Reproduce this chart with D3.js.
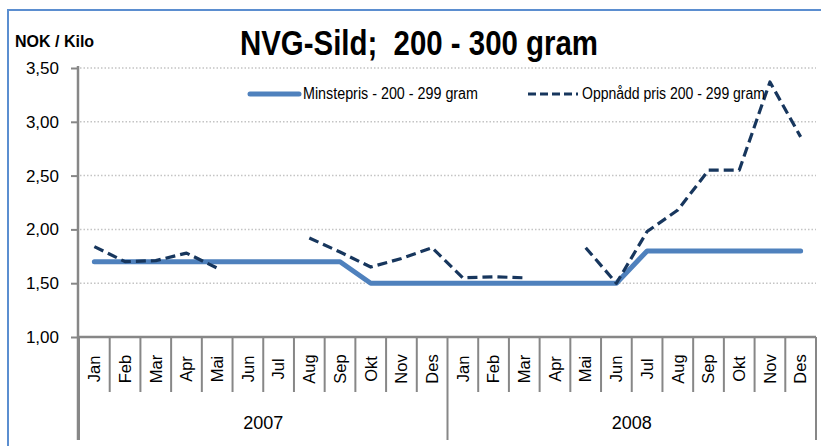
<!DOCTYPE html>
<html>
<head>
<meta charset="utf-8">
<script src="https://cdn.jsdelivr.net/npm/d3@7"></script>
<style>
  html, body { margin: 0; padding: 0; background: #fff; }
  svg { display: block; }
  .pre { white-space: pre; }
</style>
</head>
<body>
<svg id="chart" width="821" height="446"></svg>
<script>
// ---- data ----
const years = ["2007", "2008"];
const months = ["Jan", "Feb", "Mar", "Apr", "Mai", "Jun", "Jul", "Aug", "Sep", "Okt", "Nov", "Des"];
const minstepris = [1.70, 1.70, 1.70, 1.70, 1.70, 1.70, 1.70, 1.70, 1.70, 1.50, 1.50, 1.50,
                    1.50, 1.50, 1.50, 1.50, 1.50, 1.50, 1.80, 1.80, 1.80, 1.80, 1.80, 1.80];
const oppnadd = [1.84, 1.70, 1.71, 1.78, 1.64, null, null, 1.92, 1.79, 1.65, 1.73, 1.83,
                 1.55, 1.56, 1.55, null, 1.83, 1.50, 1.98, 2.18, 2.55, 2.55, 3.37, 2.86];
const yTicks = [1.00, 1.50, 2.00, 2.50, 3.00, 3.50];
const titleText = "NVG-Sild;  200 - 300 gram";
const yLabel = "NOK / Kilo";
const seriesNames = ["Minstepris - 200 - 299 gram", "Oppnådd pris 200 - 299 gram"];

// ---- build ----
const cats = [];
years.forEach(y => months.forEach(m => cats.push(y + "-" + m)));

const svg = d3.select("#chart");
const x = d3.scaleBand().domain(cats).range([79, 816]).padding(0);
const y = d3.scaleLinear().domain([1, 3.5]).range([337, 68]);
const axisColor = "#878787";
const font = "Liberation Sans, Arial, sans-serif";

// frame
svg.append("path").attr("d", "M8,446 L8,10 L821,10")
  .attr("fill", "none").attr("stroke", "#5B8ED0").attr("stroke-width", 2);

// gridlines
svg.append("g").selectAll("line").data(yTicks.filter(t => t > 1)).join("line")
  .attr("x1", 80).attr("x2", 816)
  .attr("y1", d => y(d)).attr("y2", d => y(d))
  .attr("stroke", "#C4C4C4").attr("stroke-width", 1.5).attr("stroke-dasharray", "1.5,2");

// y axis
const yAxis = svg.append("g").attr("transform", "translate(78,0)")
  .call(d3.axisLeft(y).tickValues(yTicks).tickSize(7).tickPadding(12)
    .tickFormat(d => d3.format(".2f")(d).replace(".", ",")));
yAxis.select(".domain").remove();
yAxis.selectAll(".tick line").attr("stroke", axisColor).attr("stroke-width", 2);
yAxis.selectAll(".tick text").attr("font-family", font)
  .attr("font-size", 17).attr("fill", "#000");
svg.append("line").attr("x1", 78).attr("x2", 78).attr("y1", 66).attr("y2", 440)
  .attr("stroke", axisColor).attr("stroke-width", 2.5);

// x axis (month labels)
const xAxis = svg.append("g").attr("transform", "translate(0,337)")
  .call(d3.axisBottom(x).tickSize(0).tickFormat(d => d.split("-")[1]));
xAxis.select(".domain").remove();
xAxis.selectAll(".tick text")
  .attr("transform", "translate(0,32) rotate(-90)")
  .attr("text-anchor", "middle").attr("dy", "0.35em").attr("y", 0)
  .attr("font-family", font)
  .attr("font-size", 16.5).attr("fill", "#000");
svg.append("line").attr("x1", 77).attr("x2", 816).attr("y1", 337).attr("y2", 337)
  .attr("stroke", axisColor).attr("stroke-width", 2.5);

// separators
const bounds = d3.range(cats.length + 1);
const bx = i => i < cats.length ? x(cats[i]) : x(cats[cats.length - 1]) + x.bandwidth();
svg.append("g").selectAll("line").data(bounds).join("line")
  .attr("x1", bx).attr("x2", bx)
  .attr("y1", 337)
  .attr("y2", i => (i % months.length === 0) ? 440 : 392)
  .attr("stroke", axisColor).attr("stroke-width", 2);

// year labels
svg.append("g").selectAll("text").data(years).join("text")
  .attr("x", d => (x(d + "-" + months[0]) + x(d + "-" + months[11]) + x.bandwidth()) / 2)
  .attr("y", 429)
  .attr("text-anchor", "middle")
  .attr("font-family", font)
  .attr("font-size", 18).attr("fill", "#000")
  .text(d => d);

// lines
const cx = i => x(cats[i]) + x.bandwidth() / 2;
const line = d3.line().defined(d => d != null).x((d, i) => cx(i)).y(d => y(d));
svg.append("path").datum(minstepris).attr("d", line)
  .attr("fill", "none").attr("stroke", "#4F81BD").attr("stroke-width", 5)
  .attr("stroke-linecap", "round").attr("stroke-linejoin", "round");
svg.append("path").datum(oppnadd).attr("d", line)
  .attr("fill", "none").attr("stroke", "#17365D").attr("stroke-width", 3.2)
  .attr("stroke-dasharray", "10,5").attr("stroke-linejoin", "round");

// legend
svg.append("line").attr("x1", 250).attr("x2", 299).attr("y1", 94).attr("y2", 94)
  .attr("stroke", "#4F81BD").attr("stroke-width", 5).attr("stroke-linecap", "round");
svg.append("text").attr("x", 303).attr("y", 98.5)
  .attr("font-family", font).attr("font-size", 16)
  .attr("textLength", 175).attr("lengthAdjust", "spacingAndGlyphs")
  .attr("fill", "#000").text(seriesNames[0]);
svg.append("line").attr("x1", 528).attr("x2", 578).attr("y1", 94).attr("y2", 94)
  .attr("stroke", "#17365D").attr("stroke-width", 3.2).attr("stroke-dasharray", "8,4");
svg.append("text").attr("x", 582).attr("y", 98.5)
  .attr("font-family", font).attr("font-size", 16)
  .attr("textLength", 183).attr("lengthAdjust", "spacingAndGlyphs")
  .attr("fill", "#000").text(seriesNames[1]);

// title
svg.append("text").attr("class", "pre").attr("x", 240).attr("y", 55)
  .attr("font-family", "Liberation Sans Narrow, Arial Narrow, Liberation Sans, Arial, sans-serif")
  .attr("font-weight", "bold").attr("font-size", 35)
  .attr("textLength", 358).attr("lengthAdjust", "spacingAndGlyphs")
  .attr("fill", "#000").text(titleText);

// y label
svg.append("text").attr("x", 15).attr("y", 47)
  .attr("font-family", font)
  .attr("font-weight", "bold").attr("font-size", 16)
  .attr("fill", "#000").text(yLabel);
</script>
</body>
</html>
